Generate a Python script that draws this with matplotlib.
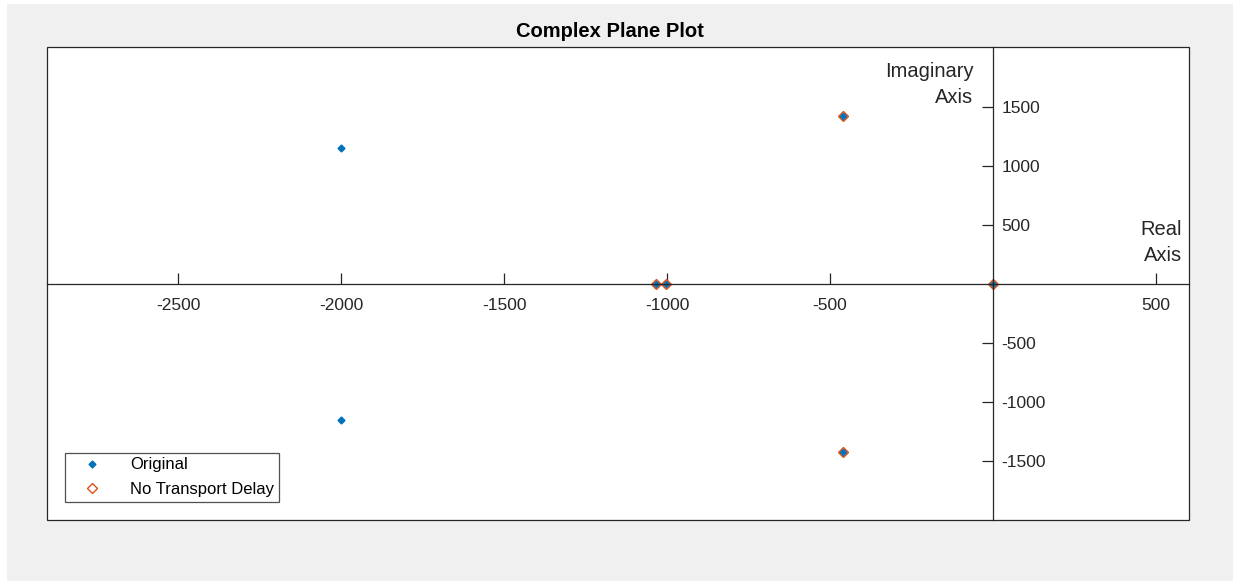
import numpy as np
import matplotlib
matplotlib.use("Agg")
import matplotlib.pyplot as plt
from matplotlib.patches import Rectangle

plt.rcParams['font.family'] = ['Liberation Sans', 'DejaVu Sans']

# 极点数据
orig_re = [-2000, -2000, -460, -460, -1034, -1003, 0]
orig_im = [1155, -1155, 1425, -1425, 0, 0, 0]
ntd_re = [-460, -460, -1034, -1003, 0]
ntd_im = [1425, -1425, 0, 0, 0]

x_ticks = [-2500, -2000, -1500, -1000, -500, 500]
y_ticks = [-1500, -1000, -500, 500, 1000, 1500]

axis_col = '#262626'
blue = '#0072BD'
orange = '#D95319'

fig = plt.figure(figsize=(12.39, 5.81), dpi=100, facecolor='white')
# 灰色背景
fig.patches.append(Rectangle((7 / 1239, 0), 1226 / 1239, 577 / 581,
                             transform=fig.transFigure, facecolor='#f0f0f0',
                             edgecolor='none', zorder=-10))
ax = fig.add_axes([47 / 1239, 1 - 520 / 581, 1142 / 1239, 473 / 581])

ax.plot(orig_re, orig_im, linestyle='none', marker='D', markersize=3.5,
        color=blue, label='Original')
ax.plot(ntd_re, ntd_im, linestyle='none', marker='D', markersize=5.5,
        markerfacecolor='none', markeredgecolor=orange, markeredgewidth=1.0,
        label='No Transport Delay')

ax.set_xlim(-2902, 601)
ax.set_ylim(-2000, 2008)

# 坐标轴穿过原点
for s in ['left', 'top']:
    ax.spines[s].set_visible(False)
ax.spines['bottom'].set_position(('data', 0))
ax.spines['right'].set_position(('data', 0))
for s in ['bottom', 'right']:
    ax.spines[s].set_color(axis_col)
    ax.spines[s].set_linewidth(0.9)
ax.add_patch(Rectangle((0, 0), 1, 1, transform=ax.transAxes, fill=False,
                       edgecolor=axis_col, linewidth=0.9, clip_on=False, zorder=5))

ax.set_xticks(x_ticks)
ax.set_xticklabels([str(v) for v in x_ticks])
ax.set_yticks(y_ticks)
ax.set_yticklabels([str(v) for v in y_ticks])
ax.yaxis.tick_right()
ax.tick_params(axis='x', direction='in', length=8, width=0.9, pad=10,
               colors=axis_col, labelsize=12.5)
ax.tick_params(axis='y', direction='in', length=8, width=0.9, pad=6,
               colors=axis_col, labelsize=12.5)

ax.text(-60, 1880, 'Imaginary\nAxis', ha='right', va='top', fontsize=14.5,
        color=axis_col, linespacing=1.45)
ax.text(580, 160, 'Real\nAxis', ha='right', va='bottom', fontsize=14.5,
        color=axis_col, linespacing=1.45)

ax.set_title('Complex Plane Plot', fontsize=14.5, fontweight='bold', pad=7,
             x=0.493)

leg = ax.legend(loc='lower left', fontsize=12, frameon=True, fancybox=False,
                borderaxespad=1.1, handlelength=2.6, handletextpad=1.0,
                borderpad=0.3, labelspacing=0.55)
leg.get_frame().set_edgecolor(axis_col)
leg.get_frame().set_linewidth(0.9)

fig.savefig('out.png', dpi=100, facecolor=fig.get_facecolor())
